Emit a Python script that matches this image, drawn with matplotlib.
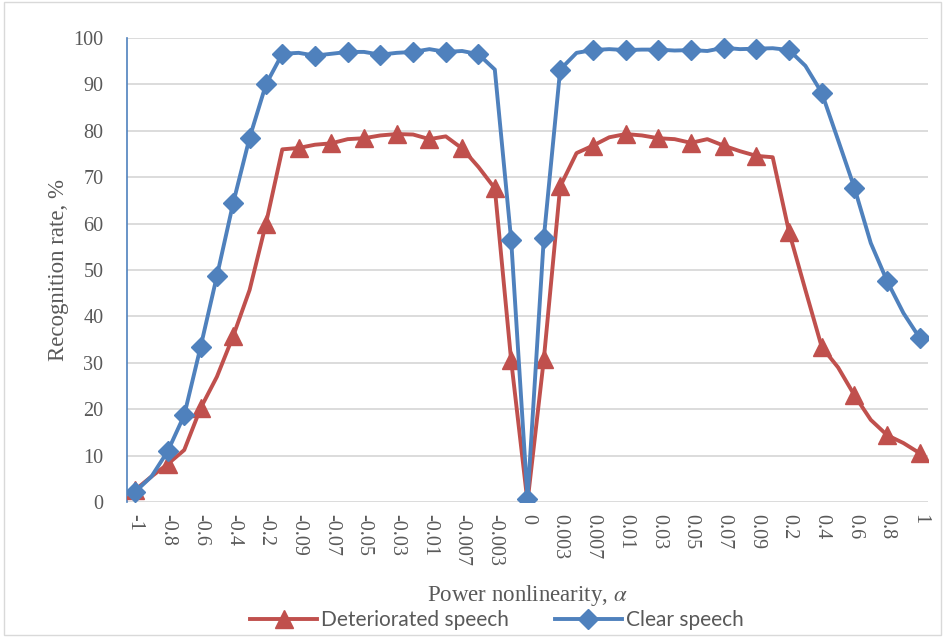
import matplotlib
matplotlib.use("Agg")
import matplotlib.pyplot as plt
from matplotlib.patches import Rectangle

categories = ["-1", "-0.9", "-0.8", "-0.7", "-0.6", "-0.5", "-0.4", "-0.3", "-0.2", "-0.1",
              "-0.09", "-0.08", "-0.07", "-0.06", "-0.05", "-0.04", "-0.03", "-0.02", "-0.01",
              "-0.009", "-0.007", "-0.005", "-0.003", "-0.001", "0", "0.001", "0.003", "0.005",
              "0.007", "0.009", "0.01", "0.02", "0.03", "0.04", "0.05", "0.06", "0.07", "0.08",
              "0.09", "0.1", "0.2", "0.3", "0.4", "0.5", "0.6", "0.7", "0.8", "0.9", "1"]

deteriorated = [2.6, 5.5, 8.2, 11.2, 20.2, 27.0, 35.8, 45.7, 60.0, 76.0,
                76.3, 77.0, 77.3, 78.2, 78.4, 79.0, 79.3, 79.2, 78.2, 78.8,
                76.2, 72.2, 67.6, 30.5, 0.0, 30.8, 68.0, 75.2, 76.8, 78.6,
                79.3, 79.0, 78.4, 78.2, 77.4, 78.2, 76.8, 75.6, 74.6, 74.3,
                58.2, 45.7, 33.4, 29.0, 23.0, 17.7, 14.4, 12.7, 10.5]

clear = [2.2, 5.5, 11.0, 18.7, 33.4, 48.7, 64.5, 78.5, 90.0, 96.6,
         96.8, 96.2, 96.6, 97.0, 97.0, 96.4, 96.8, 97.0, 97.6, 97.0,
         97.2, 96.5, 93.2, 56.5, 0.6, 57.0, 93.2, 96.8, 97.4, 97.6,
         97.4, 97.5, 97.5, 97.3, 97.4, 97.2, 97.9, 97.6, 97.7, 97.8,
         97.4, 94.0, 88.2, 78.0, 67.7, 55.8, 47.6, 40.7, 35.3]

deteriorated_markers = [0, 2, 4, 6, 8, 10, 12, 14, 16, 18, 20, 22, 23, 24, 25, 26, 28, 30,
                        32, 34, 36, 38, 40, 42, 44, 46, 48]
clear_markers = [0, 2, 3, 4, 5, 6, 7, 8, 9, 11, 13, 15, 17, 19, 21, 23, 24, 25, 26, 28, 30,
                 32, 34, 36, 38, 40, 42, 44, 46, 48]

yticks = list(range(0, 101, 10))

plt.rcParams['mathtext.fontset'] = 'stix'
serif = ['Liberation Serif', 'DejaVu Serif']
txt = '#595959'

fig = plt.figure(figsize=(9.45, 6.37), dpi=100)
fig.patches.append(Rectangle((0.004, 0.003), 0.992, 0.994, transform=fig.transFigure,
                             fill=False, edgecolor='#d9d9d9', linewidth=1))
ax = fig.add_axes([127 / 945, 1 - 502 / 637, (928 - 127) / 945, (502 - 38) / 637])

x = list(range(len(categories)))
red = '#C0504D'
blue = '#4F81BD'
ax.plot(x, deteriorated, color=red, lw=2.8, marker='^', markersize=12.5,
        markevery=deteriorated_markers, label='Deteriorated speech', zorder=3)
ax.plot(x, clear, color=blue, lw=2.8, marker='D', markersize=10,
        markevery=clear_markers, label='Clear speech', zorder=4)

ax.set_xlim(-0.5, len(categories) - 0.5)
ax.set_ylim(0, 100)
ax.set_yticks(yticks)
ax.set_yticklabels([str(v) for v in yticks], fontfamily=serif, fontsize=14.5, color=txt)
ax.set_xticks(x[::2])
ax.set_xticklabels(categories[::2], rotation=-90, fontfamily=serif, fontsize=14.5,
                   color=txt, va='top', ha='center')
ax.tick_params(axis='x', length=0, pad=9)
ax.tick_params(axis='y', length=0, pad=17)
ax.grid(axis='y', color='#d9d9d9', lw=1.3)
ax.set_axisbelow(True)
for s in ['top', 'right', 'bottom']:
    ax.spines[s].set_visible(False)
ax.spines['left'].set_color(blue)
ax.spines['left'].set_linewidth(1.2)

ax.set_ylabel('Recognition rate, %', fontfamily=serif, fontsize=16.5, color=txt, labelpad=3)
fig.text(527 / 945, 1 - 595 / 637, r'Power nonlinearity, $\mathit{\alpha}$',
         fontfamily=serif, fontsize=16.5, color=txt, ha='center', va='center')

leg = fig.legend(loc='center', bbox_to_anchor=(497 / 945, 1 - 620 / 637), ncol=2,
                 frameon=False, prop={'family': 'Lato', 'size': 15},
                 handlelength=3.2, columnspacing=2.2, handletextpad=0.2)
for t in leg.get_texts():
    t.set_color(txt)

fig.savefig('out.png', dpi=100)
